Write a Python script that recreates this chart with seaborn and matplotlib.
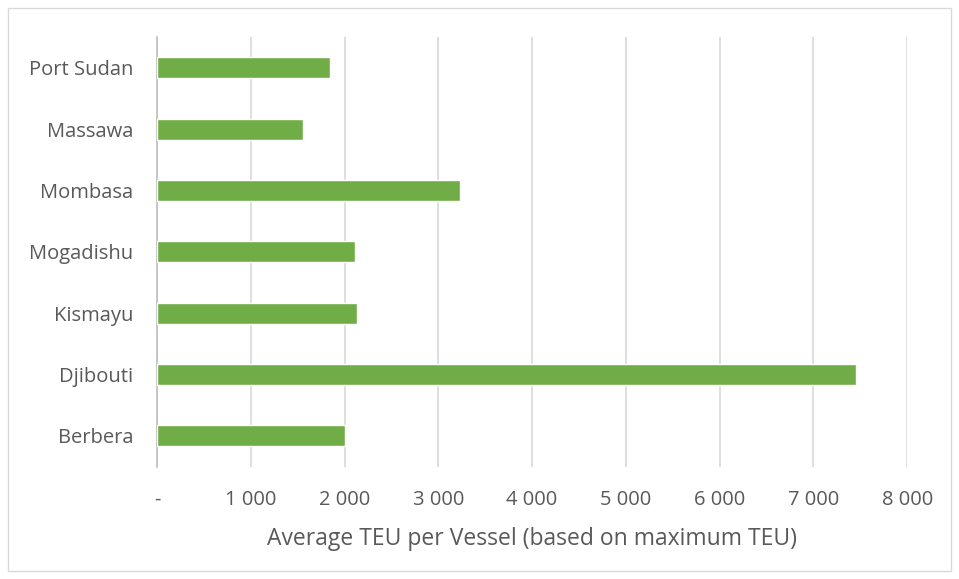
import matplotlib
matplotlib.use("Agg")
import matplotlib.pyplot as plt
import matplotlib.patches as mpatches
from matplotlib.ticker import FuncFormatter
import seaborn as sns
import pandas as pd

ports = ["Port Sudan", "Massawa", "Mombasa", "Mogadishu", "Kismayu", "Djibouti", "Berbera"]
avg_teu = [1845, 1560, 3235, 2115, 2130, 7455, 2010]
x_ticks = [0, 1000, 2000, 3000, 4000, 5000, 6000, 7000, 8000]

df = pd.DataFrame({"port": ports, "teu": avg_teu})

sns.set_theme(style="white")
plt.rcParams["font.family"] = ["Open Sans", "DejaVu Sans"]

text_color = "#595959"
fig = plt.figure(figsize=(9.59, 5.79), dpi=100)
ax = fig.add_axes([0.1637, 0.1943, 0.946 - 0.1637, 0.936 - 0.1943])

sns.barplot(data=df, y="port", x="teu", orient="h", color="#70AD47",
            width=0.34, saturation=1, ax=ax, zorder=3)

ax.set_xlim(0, 8000)
ax.set_xticks(x_ticks)
ax.xaxis.set_major_formatter(FuncFormatter(
    lambda v, _: "-" if v == 0 else f"{int(v):,}".replace(",", " ")))
ax.grid(axis="x", color="#d9d9d9", linewidth=1.2, zorder=0)
ax.grid(axis="y", visible=False)

for side in ["top", "right", "bottom"]:
    ax.spines[side].set_visible(False)
ax.spines["left"].set_color("#bfbfbf")
ax.spines["left"].set_linewidth(1.2)

ax.tick_params(axis="both", length=0, labelsize=14.5, colors=text_color)
ax.tick_params(axis="x", pad=17)
ax.tick_params(axis="y", pad=17)
ax.set_ylabel("")
ax.set_xlabel("Average TEU per Vessel (based on maximum TEU)",
              fontsize=16.5, color=text_color, labelpad=12)

# light frame around the chart area
fig.patches.append(mpatches.Rectangle((8 / 959, 8 / 579), 1 - 16 / 959, 1 - 16 / 579,
                                      transform=fig.transFigure, fill=False,
                                      edgecolor="#d9d9d9", linewidth=1))

fig.savefig("out.png", dpi=100, facecolor="white")
